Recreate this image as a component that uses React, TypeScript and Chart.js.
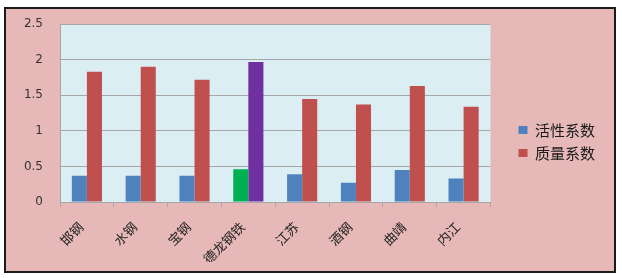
import React, { useEffect, useRef } from 'react';
import { Chart, registerables } from 'chart.js';

Chart.register(...registerables);

const categories = ['邯钢', '水钢', '宝钢', '德龙钢铁', '江苏', '酒钢', '曲靖', '内江'];
const seriesNames = ['活性系数', '质量系数'];
const activity = [0.37, 0.37, 0.37, 0.46, 0.39, 0.27, 0.45, 0.33];
const quality = [1.83, 1.9, 1.72, 1.97, 1.45, 1.37, 1.63, 1.34];
const yMin = 0;
const yMax = 2.5;
const yStep = 0.5;
const highlightIndex = 3;

const BLUE = '#4F81BD';
const GREEN = '#00B050';
const RED = '#C0504D';
const PURPLE = '#7030A0';
const GRID = '#A6A6A6';

const plotBg = {
  id: 'plotBg',
  beforeDraw(chart: any) {
    const { ctx, chartArea: a } = chart;
    ctx.save();
    ctx.fillStyle = '#DBEEF4';
    ctx.fillRect(a.left, a.top, a.right - a.left, a.bottom - a.top);
    ctx.restore();
  },
};

export default function App() {
  const ref = useRef<HTMLCanvasElement>(null);

  useEffect(() => {
    if (!ref.current) return;
    const chart = new Chart(ref.current, {
      type: 'bar',
      data: {
        labels: categories,
        datasets: [
          {
            label: seriesNames[0],
            data: activity,
            backgroundColor: (c: any) => (c.dataIndex === highlightIndex ? GREEN : BLUE),
            borderWidth: 0,
          },
          {
            label: seriesNames[1],
            data: quality,
            backgroundColor: (c: any) => (c.dataIndex === highlightIndex ? PURPLE : RED),
            borderWidth: 0,
          },
        ],
      },
      options: {
        responsive: false,
        animation: false,
        layout: { padding: { top: 21, left: 0, right: 17, bottom: 16 } },
        datasets: { bar: { barPercentage: 1, categoryPercentage: 0.56 } },
        plugins: {
          tooltip: { enabled: false },
          legend: {
            position: 'right',
            labels: {
              boxWidth: 9,
              boxHeight: 8,
              padding: 8,
              color: '#1a1a1a',
              font: { family: '"Noto Sans CJK SC"', size: 15 },
            },
          },
        },
        scales: {
          x: {
            grid: { display: true, drawOnChartArea: false, drawTicks: true, tickLength: 5, color: GRID, offset: true },
            border: { display: true, color: GRID },
            ticks: {
              autoSkip: false,
              minRotation: 45,
              maxRotation: 45,
              padding: 12,
              labelOffset: -6,
              color: '#222',
              font: { family: '"Noto Sans CJK SC"', size: 13 },
            },
            afterFit: (s: any) => {
              s.height = 60;
            },
          },
          y: {
            min: yMin,
            max: yMax,
            ticks: {
              stepSize: yStep,
              padding: 17,
              color: '#333',
              font: { family: '"DejaVu Sans"', size: 12 },
              callback: (v: any) => String(v),
            },
            grid: { color: GRID, drawTicks: false },
            border: { display: true, color: GRID },
            afterFit: (s: any) => {
              s.width = 60;
            },
          },
          yR: {
            type: 'linear',
            position: 'right',
            display: true,
            grid: { display: false },
            border: { display: false },
            ticks: { display: false },
            afterFit: (s: any) => {
              s.width = 20;
            },
          },
        },
      },
      plugins: [plotBg],
    } as any);
    return () => chart.destroy();
  }, []);

  return (
    <div style={{ position: 'fixed', left: 0, top: 0, width: 622, height: 278, background: '#fff' }}>
      <div
        style={{
          position: 'absolute',
          left: 4,
          top: 7,
          width: 612,
          height: 266,
          boxSizing: 'border-box',
          border: '2px solid #1a1a1a',
          background: '#E6B9B8',
        }}
      />
      <canvas ref={ref} width={622} height={278} style={{ position: 'absolute', left: 0, top: 0 }} />
    </div>
  );
}
